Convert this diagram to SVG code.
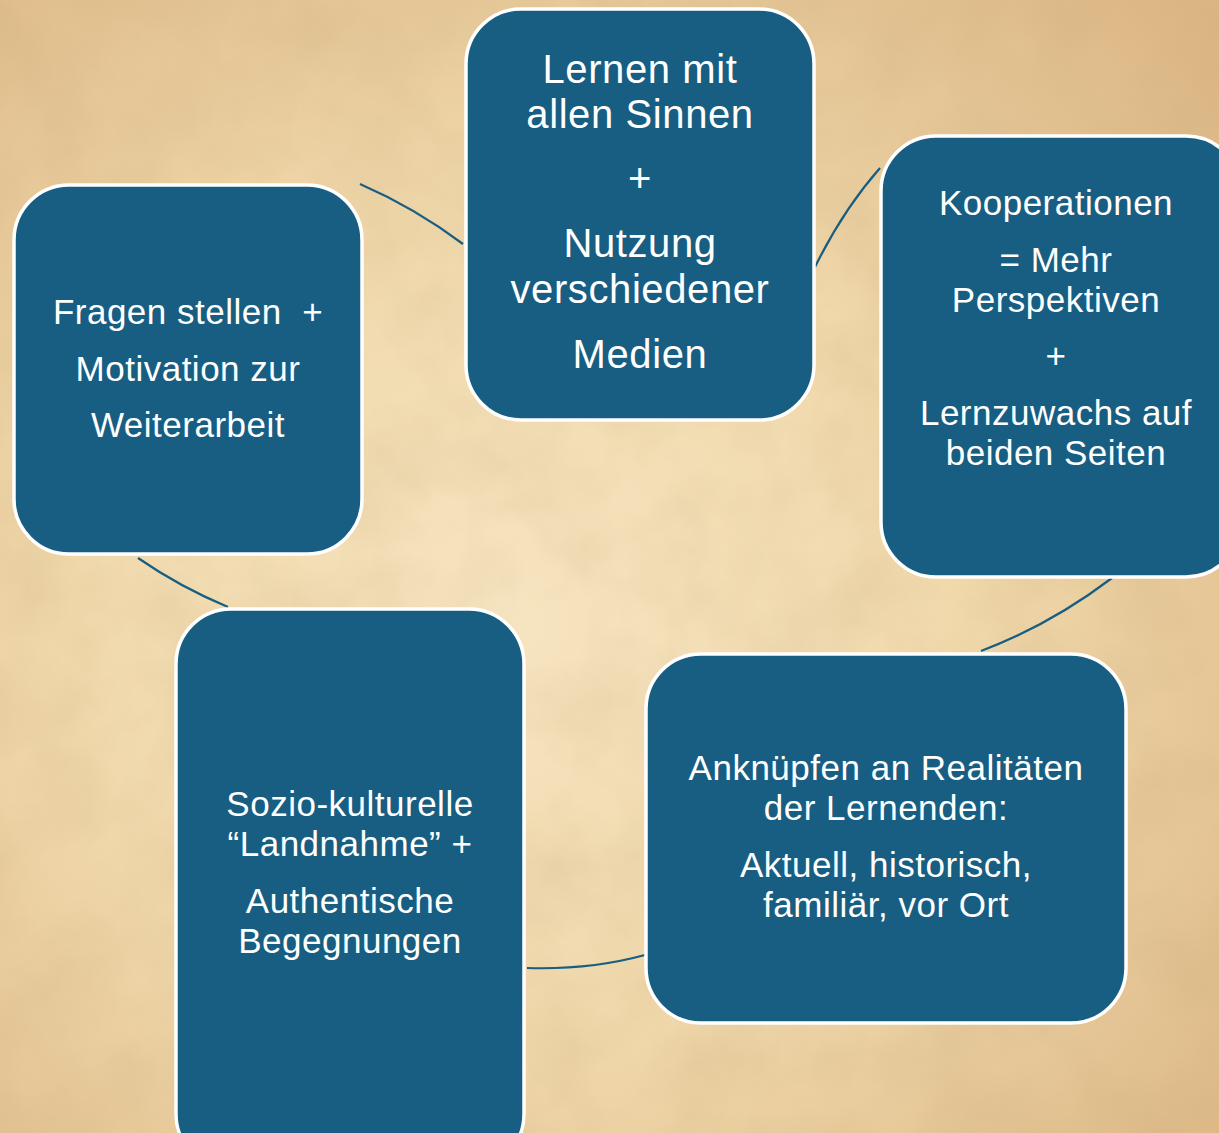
<svg xmlns="http://www.w3.org/2000/svg" width="1219" height="1133" viewBox="0 0 1219 1133">
<defs>
<radialGradient id="bg" cx="0.42" cy="0.55" r="0.75">
<stop offset="0" stop-color="#f6e4c0"/>
<stop offset="0.5" stop-color="#f0d8ab"/>
<stop offset="1" stop-color="#ddb886"/>
</radialGradient>
<filter id="grain" x="0" y="0" width="100%" height="100%">
<feTurbulence type="fractalNoise" baseFrequency="0.012" numOctaves="4" seed="7"/>
<feColorMatrix type="matrix" values="0 0 0 0 0.55  0 0 0 0 0.38  0 0 0 0 0.18  0 0 0 -1.1 0.75"/>
</filter>
</defs>
<style>
.node rect{fill:#175e82;stroke:#ffffff;stroke-width:3.5}
.node text{fill:#ffffff;font-family:"Liberation Sans",Arial,sans-serif;text-anchor:middle}
.big{font-size:40px;letter-spacing:0.6px}
.med{font-size:35px;letter-spacing:0.5px}
.conn path{fill:none;stroke:#175e82;stroke-width:2.2}
</style>
<rect width="1219" height="1133" fill="url(#bg)"/>
<rect width="1219" height="1133" filter="url(#grain)" opacity="0.3"/>
<g class="conn">
<path d="M360,184 Q415,208 463,244"/>
<path d="M815,267 Q843,210 880,168"/>
<path d="M1112,578 Q1050,625 981,651"/>
<path d="M645,955 Q590,970 527,968"/>
<path d="M228,607 Q180,587 138,558"/>
</g>
<g class="node" id="n-top">
<rect x="466" y="9" width="348" height="411" rx="55"/>
<text class="big" x="640" y="83">Lernen mit</text>
<text class="big" x="640" y="128">allen Sinnen</text>
<text class="big" x="640" y="192">+</text>
<text class="big" x="640" y="257">Nutzung</text>
<text class="big" x="640" y="303">verschiedener</text>
<text class="big" x="640" y="368">Medien</text>
</g>
<g class="node" id="n-right">
<rect x="881" y="136" width="360" height="441" rx="55"/>
<text class="med" x="1056" y="215">Kooperationen</text>
<text class="med" x="1056" y="272">= Mehr</text>
<text class="med" x="1056" y="312">Perspektiven</text>
<text class="med" x="1056" y="368">+</text>
<text class="med" x="1056" y="425">Lernzuwachs auf</text>
<text class="med" x="1056" y="465">beiden Seiten</text>
</g>
<g class="node" id="n-bright">
<rect x="646" y="654" width="480" height="369" rx="55"/>
<text class="med" x="886" y="780">Anknüpfen an Realitäten</text>
<text class="med" x="886" y="820">der Lernenden:</text>
<text class="med" x="886" y="877">Aktuell, historisch,</text>
<text class="med" x="886" y="917">familiär, vor Ort</text>
</g>
<g class="node" id="n-bleft">
<rect x="176" y="609" width="348" height="560" rx="55"/>
<text class="med" x="350" y="816">Sozio-kulturelle</text>
<text class="med" x="350" y="856">“Landnahme” +</text>
<text class="med" x="350" y="913">Authentische</text>
<text class="med" x="350" y="953">Begegnungen</text>
</g>
<g class="node" id="n-left">
<rect x="14" y="185" width="348" height="369" rx="55"/>
<text class="med" x="188" y="324" xml:space="preserve">Fragen stellen  +</text>
<text class="med" x="188" y="381">Motivation zur</text>
<text class="med" x="188" y="437">Weiterarbeit</text>
</g>
</svg>
